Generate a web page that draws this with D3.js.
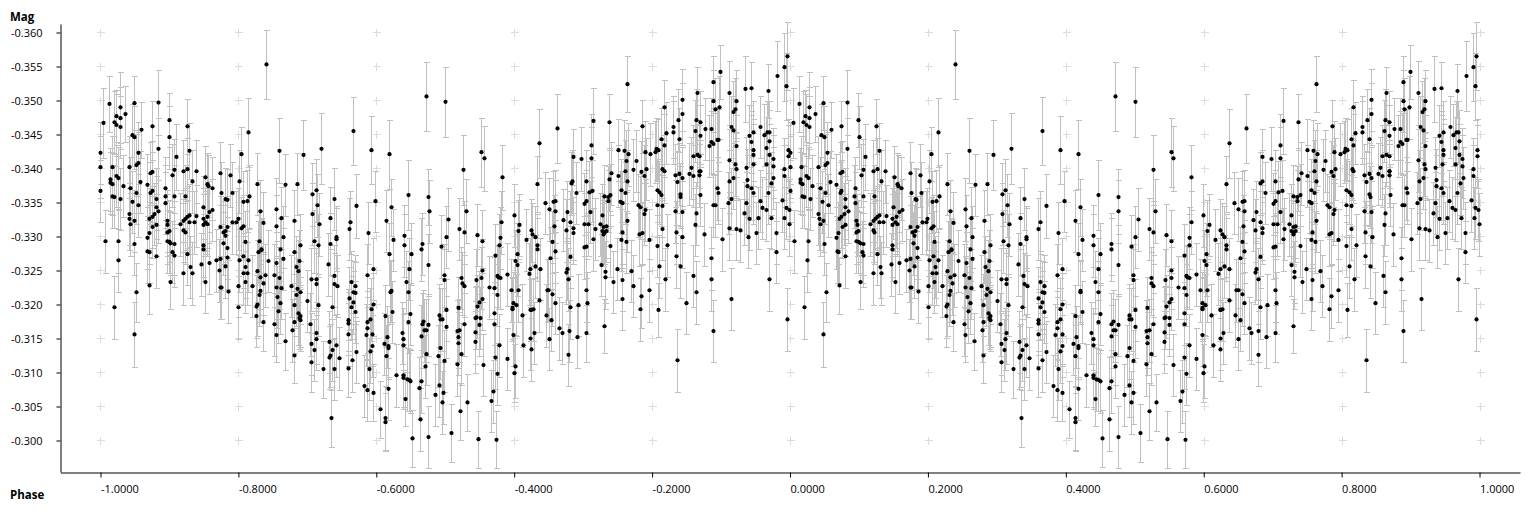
<!DOCTYPE html>
<html><head><meta charset="utf-8">
<style>html,body{margin:0;padding:0;background:#fff}svg{display:block}
text{font-family:"Open Sans","Noto Sans",sans-serif;font-size:11px;fill:#000}
.b{font-weight:700;font-size:11.5px}</style>
<script src="https://cdnjs.cloudflare.com/ajax/libs/d3/7.8.5/d3.min.js"></script>
</head><body><svg id="c" width="1536" height="512"></svg>
<script>
const xTicks=[-1,-.8,-.6,-.4,-.2,0,.2,.4,.6,.8,1];
const yTicks=[-.36,-.355,-.35,-.345,-.34,-.335,-.33,-.325,-.32,-.315,-.31,-.305,-.3];
const typicalError=.0046;
// points whose error bar caps can be read individually
const readPhases=[
.240,.013,.048,.083,.004,.028,.022,.036,.059,.074,
.099,.125,.214,.109,.129,.204,.259,.294,.320,.020,
.048,.052,.071,.101,.236,.254,.267,.280,.306,.323,
.335,.366,.472,.500,.662,.636,.392,.418,.552,.556,
.526,.582,.633,.685,.697,.446,.475,.371,.398,.421,
.530,.504,.359,.395,.405,.413,.413,.442,.452,.508,
.531,.521,.547,.573,.599,.763,.995,.991,.994,.981,
.899,.889,.865,.911,.934,.944,.968,.817,.715,.737,
.786,.704,.730,.808,.836,.889,.915,.969,.995];
const readMags=[
-.3553,-.3495,-.3496,-.3497,-.3467,-.3490,-.3477,-.3480,-.3457,-.3462,
-.3471,-.3462,-.3453,-.3417,-.3426,-.3421,-.3426,-.3420,-.3429,-.3196,
-.3156,-.3218,-.3228,-.3233,-.3174,-.3155,-.3146,-.3125,-.3115,-.3105,
-.3033,-.3455,-.3506,-.3498,-.3459,-.3437,-.3427,-.3421,-.3424,-.3415,
-.3398,-.3387,-.3377,-.3417,-.3414,-.3361,-.3358,-.3345,-.3352,-.3343,
-.3337,-.3325,-.3106,-.3070,-.3046,-.3033,-.3027,-.3061,-.3003,-.3011,
-.3056,-.3043,-.3002,-.3001,-.3099,-.3524,-.3565,-.3549,-.3521,-.3536,
-.3542,-.3527,-.3511,-.3511,-.3517,-.3518,-.3514,-.3490,-.3470,-.3468,
-.3462,-.3158,-.3168,-.3192,-.3118,-.3161,-.3208,-.3237,-.3178];
const readErrors=[
.0051,.0041,.0040,.0048,.0051,.0052,.0038,.0041,.0041,.0038,
.0040,.0040,.0051,.0048,.0041,.0040,.0048,.0051,.0052,.0046,
.0048,.0043,.0042,.0040,.0043,.0040,.0042,.0040,.0043,.0042,
.0042,.0050,.0051,.0052,.0051,.0051,.0050,.0051,.0051,.0048,
.0051,.0048,.0041,.0041,.0047,.0051,.0041,.0047,.0045,.0042,
.0047,.0046,.0042,.0042,.0042,.0047,.0043,.0040,.0042,.0042,
.0042,.0042,.0042,.0042,.0043,.0041,.0050,.0050,.0049,.0051,
.0040,.0038,.0039,.0047,.0049,.0039,.0040,.0040,.0049,.0041,
.0039,.0042,.0040,.0040,.0046,.0046,.0046,.0046,.0046];
// remaining points, whose bars overlap in the dense cloud
const phases=[
.028,.019,.023,.028,.045,.049,.100,.054,.083,.000,
.000,.016,.041,.051,.054,.072,.075,.106,.103,.120,
.126,.138,.151,.174,.188,.132,.014,.014,.017,.023,
.026,.032,.043,.058,.067,.094,.155,.156,.161,.201,
.227,.268,.285,.312,.307,.339,.000,.017,.020,.029,
.051,.074,.072,.093,.106,.122,.175,.190,.181,.183,
.216,.212,.206,.080,.094,.046,.055,.080,.084,.149,
.162,.158,.232,.254,.314,.041,.078,.074,.071,.042,
.048,.043,.129,.126,.123,.120,.116,.139,.148,.154,
.152,.155,.148,.129,.135,.191,.197,.199,.262,.281,
.333,.307,.236,.080,.075,.096,.097,.174,.184,.181,
.177,.180,.178,.207,.204,.255,.317,.120,.122,.070,
.067,.096,.099,.264,.342,.342,.006,.026,.096,.099,
.101,.106,.049,.209,.230,.290,.309,.316,.333,.148,
.148,.184,.233,.261,.025,.068,.070,.080,.104,.106,
.120,.126,.130,.132,.146,.152,.158,.168,.174,.172,
.184,.180,.174,.175,.185,.201,.207,.214,.206,.212,
.210,.209,.200,.220,.200,.229,.233,.243,.227,.238,
.232,.235,.232,.230,.227,.226,.226,.264,.255,.252,
.259,.254,.262,.256,.261,.258,.252,.281,.288,.283,
.287,.277,.285,.290,.284,.280,.287,.290,.288,.290,
.280,.278,.306,.313,.313,.300,.316,.304,.313,.312,
.306,.310,.330,.338,.339,.343,.336,.332,.336,.342,
.333,.332,.346,.339,.476,.689,.644,.650,.656,.659,
.659,.682,.684,.362,.360,.414,.388,.440,.424,.520,
.527,.546,.553,.581,.579,.599,.607,.605,.624,.626,
.630,.617,.657,.655,.671,.676,.681,.675,.685,.685,
.440,.466,.465,.494,.501,.578,.633,.633,.395,.418,
.387,.363,.369,.366,.369,.360,.366,.363,.369,.395,
.392,.391,.387,.387,.385,.394,.359,.359,.359,.394,
.391,.371,.365,.389,.382,.387,.421,.420,.423,.413,
.415,.411,.417,.417,.414,.429,.417,.450,.447,.443,
.446,.449,.446,.437,.439,.439,.439,.439,.444,.447,
.449,.475,.498,.498,.468,.466,.475,.469,.472,.465,
.472,.471,.465,.462,.463,.475,.501,.491,.492,.495,
.501,.492,.489,.498,.491,.485,.497,.495,.523,.524,
.527,.518,.527,.520,.517,.518,.518,.523,.517,.553,
.552,.544,.553,.549,.546,.544,.543,.550,.549,.543,
.543,.555,.572,.563,.571,.575,.576,.579,.575,.571,
.571,.578,.572,.575,.569,.566,.589,.604,.601,.604,
.595,.605,.598,.597,.597,.602,.611,.598,.613,.589,
.601,.623,.621,.630,.637,.636,.627,.623,.624,.628,
.623,.624,.652,.659,.649,.647,.655,.659,.646,.653,
.650,.665,.669,.681,.676,.675,.678,.681,.679,.692,
.691,.678,.843,.889,.897,.891,.921,.920,.917,.843,
.837,.830,.830,.820,.863,.869,.862,.876,.885,.914,
.918,.941,.947,.957,.962,.966,.969,.970,.869,.839,
.813,.817,.711,.894,.895,.885,.888,.882,.921,.944,
.965,.750,.759,.765,.789,.797,.804,.805,.808,.711,
.762,.776,.859,.865,.868,.911,.920,.947,.947,.946,
.970,.975,.965,.975,.997,.997,.991,.760,.773,.791,
.815,.817,.741,.784,.750,.788,.856,.853,.859,.833,
.839,.843,.868,.869,.868,.936,.976,.991,.737,.704,
.763,.836,.912,.937,.918,.921,.972,.894,.895,.937,
.944,.968,.947,.755,.760,.807,.810,.813,.708,.713,
.730,.739,.736,.736,.840,.841,.870,.704,.701,.753,
.756,.779,.782,.807,.814,.888,.891,.910,.914,.936,
.956,.960,.965,.988,.994,.998,.789,.710,.727,.788,
.833,.843,.863,.933,.941,.953,.973,.992,.701,.707,
.724,.729,.733,.717,.763,.814,.862,.912,.921,.927,
.950,.979,.999,.757,.727,.730,.733,.729,.781,.785,
.834,.875,.939,.715,.755,.762,.795,.901,.739,.807,
.821,.844,.704,.701,.886,.726,.731,.731,.749,.743,
.757,.769,.772,.704,.705,.756,.784,.782,.795,.810,
.818,.834,.841,.849,.860,.863,.886,.979];
const mags=[
-.3474,-.3468,-.3464,-.3461,-.3449,-.3446,-.3446,-.3423,-.3429,-.3423,
-.3402,-.3402,-.3402,-.3405,-.3408,-.3393,-.3395,-.3398,-.3390,-.3396,
-.3399,-.3396,-.3387,-.3393,-.3390,-.3381,-.3384,-.3379,-.3377,-.3389,
-.3386,-.3374,-.3371,-.3380,-.3376,-.3371,-.3377,-.3374,-.3371,-.3381,
-.3377,-.3376,-.3377,-.3368,-.3362,-.3355,-.3367,-.3359,-.3358,-.3355,
-.3364,-.3367,-.3364,-.3359,-.3359,-.3359,-.3364,-.3364,-.3355,-.3354,
-.3359,-.3352,-.3351,-.3355,-.3349,-.3351,-.3346,-.3343,-.3337,-.3343,
-.3339,-.3336,-.3337,-.3340,-.3346,-.3333,-.3333,-.3329,-.3326,-.3326,
-.3323,-.3318,-.3331,-.3329,-.3326,-.3323,-.3318,-.3330,-.3326,-.3329,
-.3321,-.3318,-.3317,-.3321,-.3321,-.3321,-.3321,-.3326,-.3327,-.3323,
-.3327,-.3333,-.3320,-.3317,-.3314,-.3323,-.3317,-.3314,-.3314,-.3308,
-.3306,-.3301,-.3290,-.3315,-.3312,-.3315,-.3318,-.3309,-.3306,-.3305,
-.3298,-.3306,-.3308,-.3299,-.3299,-.3296,-.3293,-.3293,-.3293,-.3292,
-.3290,-.3289,-.3289,-.3292,-.3293,-.3287,-.3293,-.3287,-.3289,-.3287,
-.3281,-.3283,-.3281,-.3281,-.3265,-.3278,-.3277,-.3271,-.3277,-.3272,
-.3246,-.3274,-.3255,-.3246,-.3259,-.3233,-.3261,-.3265,-.3267,-.3250,
-.3269,-.3256,-.3225,-.3225,-.3219,-.3265,-.3271,-.3265,-.3246,-.3246,
-.3255,-.3233,-.3227,-.3227,-.3196,-.3277,-.3280,-.3264,-.3249,-.3243,
-.3240,-.3231,-.3220,-.3214,-.3200,-.3197,-.3183,-.3267,-.3261,-.3243,
-.3239,-.3225,-.3224,-.3211,-.3202,-.3190,-.3171,-.3277,-.3264,-.3255,
-.3249,-.3227,-.3223,-.3218,-.3214,-.3199,-.3187,-.3183,-.3180,-.3177,
-.3174,-.3162,-.3237,-.3237,-.3230,-.3205,-.3199,-.3171,-.3158,-.3149,
-.3142,-.3133,-.3259,-.3242,-.3230,-.3227,-.3196,-.3145,-.3133,-.3140,
-.3125,-.3122,-.3121,-.3105,-.3337,-.3364,-.3349,-.3340,-.3351,-.3352,
-.3337,-.3378,-.3381,-.3321,-.3311,-.3323,-.3305,-.3301,-.3295,-.3311,
-.3306,-.3302,-.3293,-.3321,-.3298,-.3331,-.3317,-.3308,-.3309,-.3303,
-.3299,-.3295,-.3315,-.3292,-.3324,-.3336,-.3321,-.3309,-.3312,-.3305,
-.3287,-.3289,-.3281,-.3285,-.3299,-.3287,-.3287,-.3281,-.3252,-.3274,
-.3243,-.3233,-.3227,-.3218,-.3217,-.3209,-.3203,-.3196,-.3189,-.3200,
-.3193,-.3178,-.3174,-.3165,-.3155,-.3156,-.3177,-.3172,-.3156,-.3139,
-.3131,-.3130,-.3118,-.3105,-.3080,-.3074,-.3220,-.3218,-.3189,-.3183,
-.3152,-.3142,-.3139,-.3136,-.3124,-.3096,-.3076,-.3274,-.3252,-.3233,
-.3218,-.3186,-.3174,-.3158,-.3149,-.3140,-.3096,-.3092,-.3090,-.3089,
-.3087,-.3258,-.3243,-.3236,-.3175,-.3171,-.3170,-.3162,-.3162,-.3153,
-.3127,-.3109,-.3087,-.3077,-.3031,-.3005,-.3192,-.3184,-.3178,-.3178,
-.3167,-.3136,-.3124,-.3117,-.3081,-.3067,-.3070,-.3056,-.3239,-.3231,
-.3227,-.3195,-.3171,-.3162,-.3161,-.3152,-.3143,-.3127,-.3112,-.3250,
-.3239,-.3236,-.3208,-.3203,-.3197,-.3181,-.3180,-.3180,-.3170,-.3159,
-.3145,-.3111,-.3272,-.3225,-.3224,-.3242,-.3240,-.3239,-.3214,-.3187,
-.3171,-.3140,-.3122,-.3098,-.3072,-.3058,-.3244,-.3274,-.3264,-.3258,
-.3221,-.3221,-.3202,-.3195,-.3193,-.3199,-.3184,-.3155,-.3140,-.3120,
-.3109,-.3252,-.3245,-.3256,-.3252,-.3206,-.3193,-.3192,-.3192,-.3158,
-.3150,-.3134,-.3268,-.3278,-.3221,-.3221,-.3215,-.3202,-.3184,-.3177,
-.3149,-.3165,-.3158,-.3270,-.3252,-.3247,-.3237,-.3196,-.3161,-.3199,
-.3152,-.3126,-.3501,-.3499,-.3490,-.3487,-.3499,-.3487,-.3483,-.3480,
-.3471,-.3461,-.3453,-.3452,-.3471,-.3468,-.3455,-.3458,-.3458,-.3461,
-.3456,-.3448,-.3453,-.3461,-.3449,-.3453,-.3453,-.3440,-.3448,-.3443,
-.3443,-.3434,-.3434,-.3442,-.3442,-.3439,-.3436,-.3433,-.3433,-.3439,
-.3430,-.3427,-.3426,-.3421,-.3424,-.3421,-.3424,-.3429,-.3427,-.3415,
-.3411,-.3411,-.3418,-.3420,-.3418,-.3412,-.3406,-.3427,-.3420,-.3406,
-.3420,-.3414,-.3406,-.3403,-.3427,-.3418,-.3399,-.3396,-.3398,-.3399,
-.3399,-.3396,-.3393,-.3395,-.3389,-.3389,-.3401,-.3392,-.3389,-.3390,
-.3392,-.3386,-.3396,-.3396,-.3390,-.3401,-.3386,-.3389,-.3384,-.3381,
-.3381,-.3380,-.3381,-.3383,-.3386,-.3399,-.3378,-.3371,-.3364,-.3374,
-.3371,-.3364,-.3364,-.3368,-.3364,-.3368,-.3365,-.3361,-.3365,-.3367,
-.3359,-.3361,-.3358,-.3352,-.3362,-.3358,-.3361,-.3352,-.3348,-.3351,
-.3349,-.3346,-.3343,-.3346,-.3345,-.3346,-.3346,-.3349,-.3355,-.3349,
-.3352,-.3342,-.3339,-.3353,-.3342,-.3339,-.3339,-.3336,-.3331,-.3333,
-.3337,-.3336,-.3334,-.3334,-.3326,-.3327,-.3327,-.3327,-.3318,-.3318,
-.3318,-.3314,-.3315,-.3311,-.3323,-.3311,-.3317,-.3312,-.3311,-.3309,
-.3305,-.3305,-.3318,-.3306,-.3308,-.3306,-.3308,-.3303,-.3303,-.3305,
-.3306,-.3303,-.3299,-.3296,-.3295,-.3292,-.3295,-.3296,-.3286,-.3286,
-.3287,-.3299,-.3285,-.3284,-.3268,-.3258,-.3248,-.3240,-.3252,-.3233,
-.3236,-.3249,-.3227,-.3221,-.3202,-.3208,-.3212,-.3193,-.3221,-.3256,
-.3237,-.3271,-.3256,-.3202,-.3242,-.3218,-.3237,-.3277];
const cycles=[0,-1];

const svg=d3.select("#c");
const x=d3.scaleLinear().domain([-1.058,1.0587]).range([60.5,1520]);
const y=d3.scaleLinear().domain([-.36125,-.29537]).range([24,472]);
const hyphen=f=>v=>f(v).replace("\u2212","-");

const points=[];
cycles.forEach(c=>{
  readPhases.forEach((p,i)=>points.push({p:p+c,m:readMags[i],e:readErrors[i]}));
  phases.forEach((p,i)=>points.push({p:p+c,m:mags[i],e:typicalError}));
});

const crossGroup=svg.append("g").attr("stroke","#dcdcdc").attr("shape-rendering","crispEdges");
xTicks.forEach(tx=>yTicks.forEach(ty=>{
  const cx=Math.round(x(tx))+.5, cy=Math.round(y(ty)-.5)+.5;
  crossGroup.append("line").attr("x1",cx-4).attr("x2",cx+4).attr("y1",cy).attr("y2",cy);
  crossGroup.append("line").attr("x1",cx).attr("x2",cx).attr("y1",cy-4).attr("y2",cy+4);
}));

const bars=svg.append("g").attr("stroke","#c0c0c0").attr("shape-rendering","crispEdges");
const px=v=>Math.round(v)+.5;
points.forEach(d=>{
  const cx=px(x(d.p)), t=px(y(d.m-d.e)), b=px(y(d.m+d.e));
  bars.append("path").attr("fill","none")
    .attr("d",`M${cx},${t}V${b}M${cx-2.5},${t}H${cx+3}M${cx-2.5},${b}H${cx+3}`);
});

svg.append("g").selectAll("circle").data(points).join("circle")
  .attr("cx",d=>px(x(d.p))).attr("cy",d=>y(d.m)).attr("r",2.1).attr("fill","#000");

const ax=svg.append("g").attr("transform","translate(0,472.5)")
  .call(d3.axisBottom(x).tickValues(xTicks).tickSize(5).tickSizeOuter(0).tickFormat(hyphen(d3.format(".4f"))));
ax.selectAll(".tick text").attr("text-anchor","start").attr("x",0).attr("y",17).attr("dy",".32em");
const ay=svg.append("g").attr("transform","translate(60.5,0)")
  .call(d3.axisLeft(y).tickValues(yTicks).tickSize(4).tickSizeOuter(0).tickFormat(hyphen(d3.format(".3f"))));
ay.selectAll(".tick text").attr("text-anchor","end").attr("x",-18);
svg.selectAll(".domain").attr("stroke","#000");
svg.selectAll(".tick line").attr("stroke","#000");
ax.attr("font-family",null).attr("font-size",null);
ay.attr("font-family",null).attr("font-size",null);

svg.append("text").attr("class","b").attr("x",10).attr("y",21).text("Mag");
svg.append("text").attr("class","b").attr("x",10).attr("y",499).text("Phase");
if(phases.length!==mags.length||readPhases.length!==readMags.length||readPhases.length!==readErrors.length)
  console.error("length mismatch",phases.length,mags.length,readPhases.length,readMags.length,readErrors.length);
</script></body></html>
